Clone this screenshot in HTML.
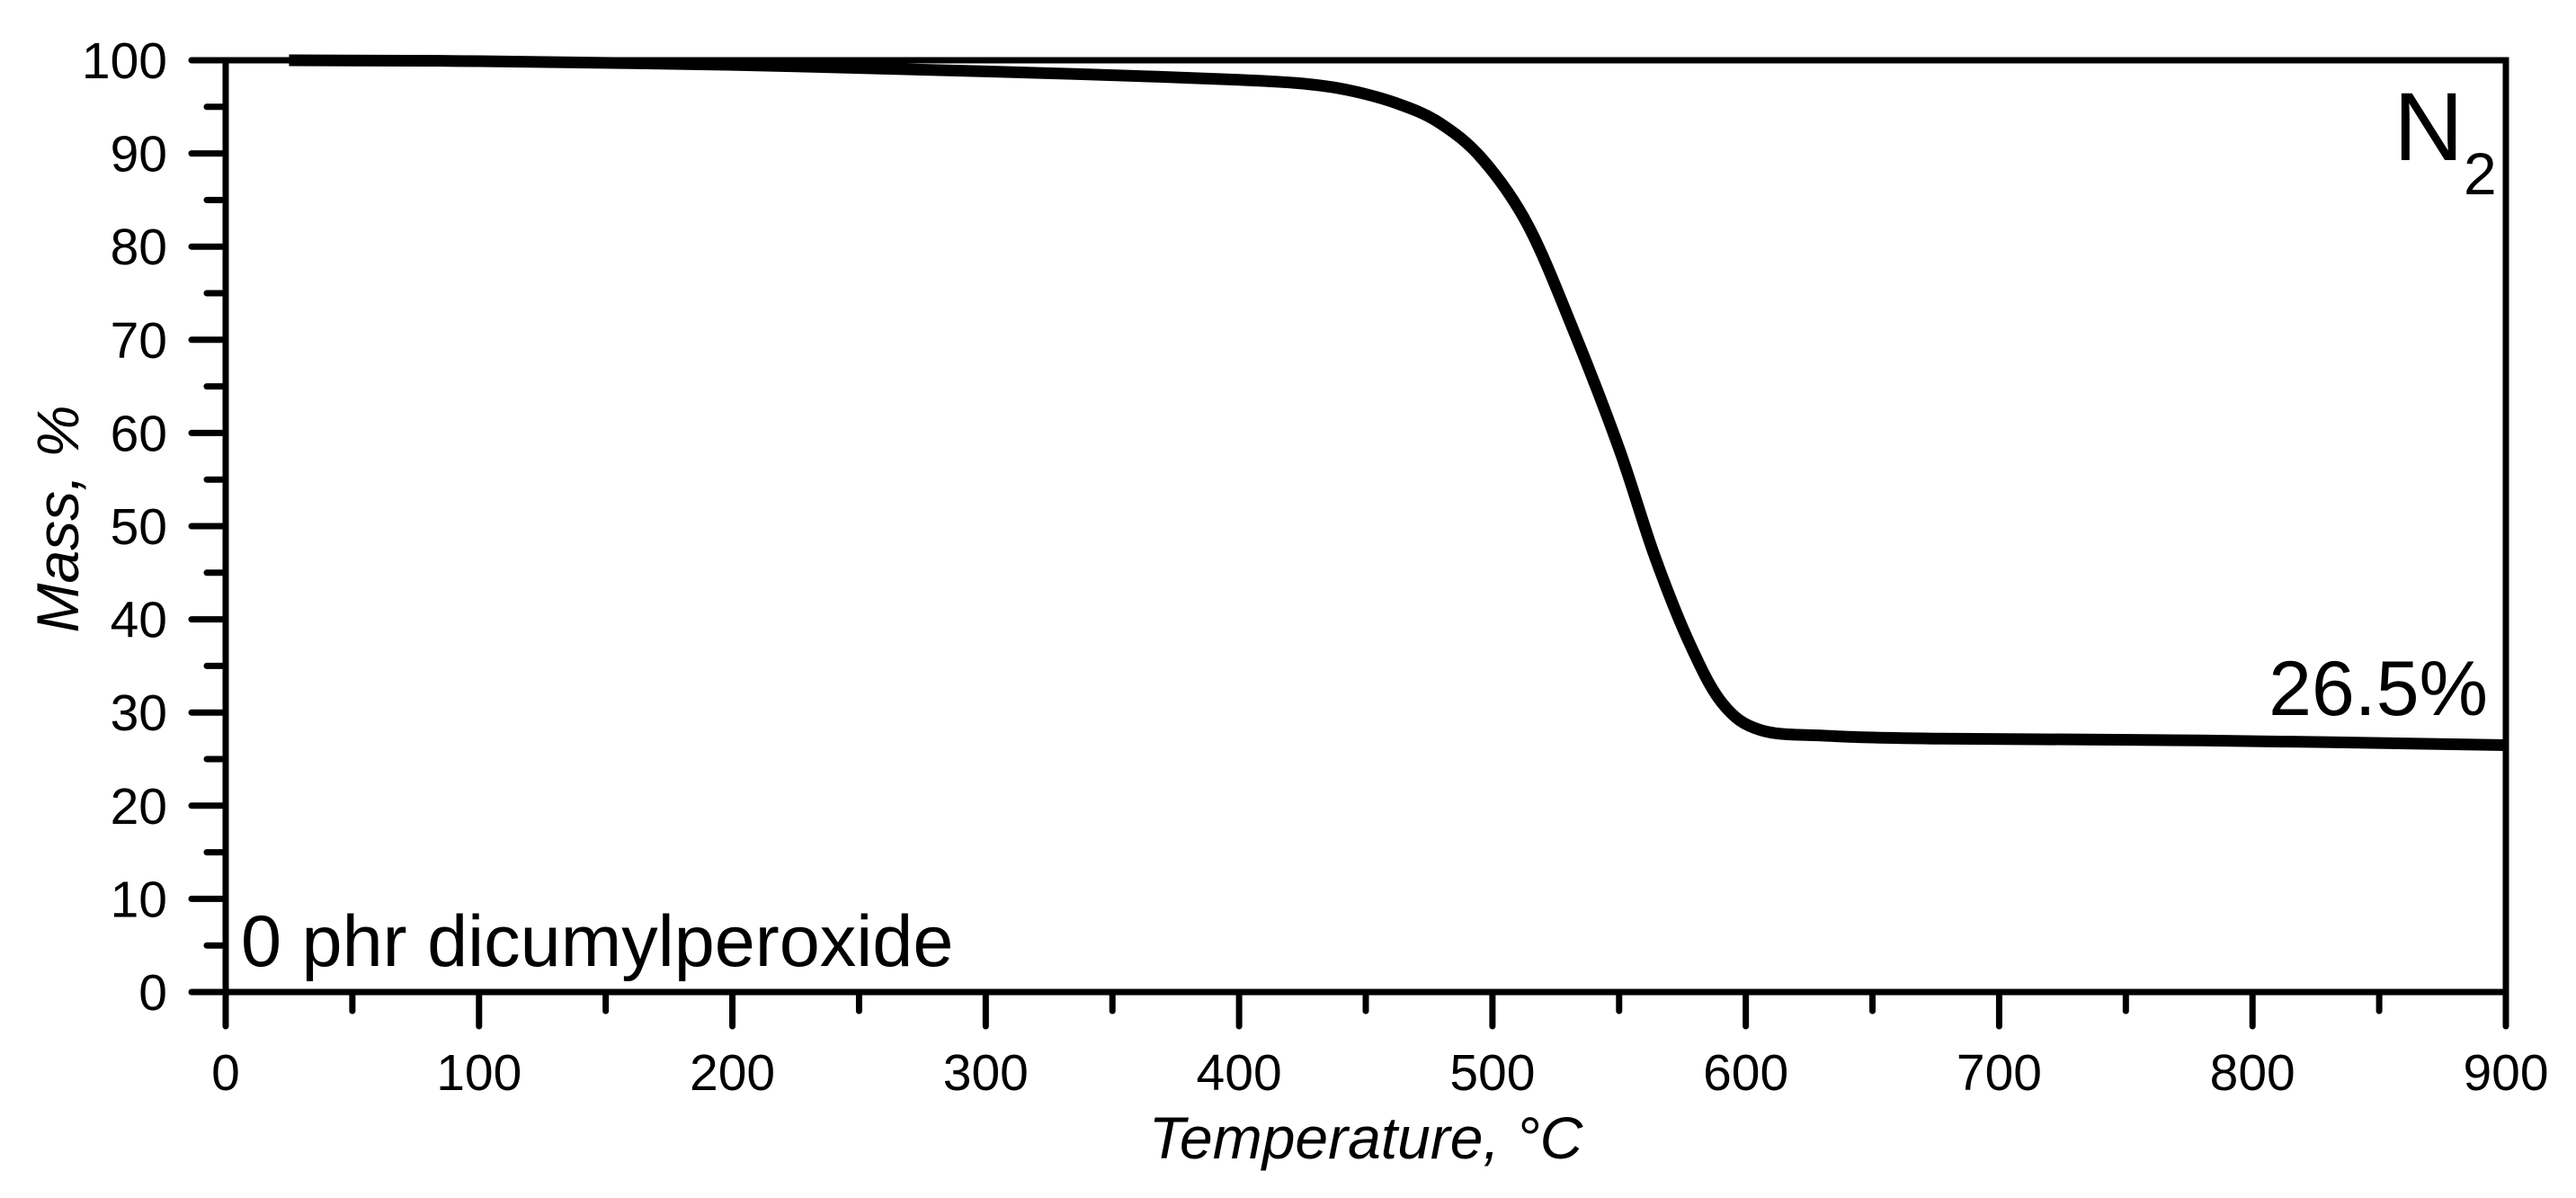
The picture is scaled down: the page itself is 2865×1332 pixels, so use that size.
<!DOCTYPE html>
<html><head><meta charset="utf-8">
<style>
html,body{margin:0;padding:0;background:#fff;}
svg{display:block;}
text{font-family:"Liberation Sans",Arial,sans-serif;fill:#000;}
</style></head>
<body>
<svg id="chart" width="2865" height="1332" viewBox="0 0 2865 1332" xmlns="http://www.w3.org/2000/svg">
<rect x="0" y="0" width="2865" height="1332" fill="#fff"/>
<g id="ticks"></g>
<g id="labels"></g>
<path id="curve" fill="none" stroke="#000" stroke-width="13" stroke-linejoin="round" stroke-linecap="butt"/>
<rect x="251" y="67" width="2536" height="1036" fill="none" stroke="#000" stroke-width="7"/>
<text x="1519" y="1288" font-size="66" font-style="italic" text-anchor="middle">Temperature, °C</text>
<text transform="translate(87,577) rotate(-90)" font-size="66" font-style="italic" text-anchor="middle">Mass, %</text>
<text x="2662" y="178" font-size="108">N<tspan font-size="66" dy="38">2</tspan></text>
<text x="2767" y="795" font-size="86" text-anchor="end">26.5%</text>
<text x="268" y="1074" font-size="81">0 phr dicumylperoxide</text>
</svg>
<script>
const temps = [25, 100, 200, 300, 350, 400, 425, 443, 462, 479, 496, 514, 532, 550, 564, 578, 591, 606, 632, 674, 780, 900];
const mass  = [100, 99.9, 99.5, 98.8, 98.4, 97.9, 97.5, 96.8, 95.4, 93.3, 89.4, 82.3, 71.0, 58.3, 46.8, 37.3, 30.9, 28.1, 27.5, 27.2, 27.0, 26.5];
const xTicks = [0, 100, 200, 300, 400, 500, 600, 700, 800, 900];
const yTicks = [0, 10, 20, 30, 40, 50, 60, 70, 80, 90, 100];

const X0 = 251, X1 = 2787, Y0 = 1103, Y1 = 67;
function xs(t){ return X0 + (t - 0) / 900 * (X1 - X0); }
function ys(m){ return Y0 - (m - 0) / 100 * (Y0 - Y1); }
const NS = "http://www.w3.org/2000/svg";
const tg = document.getElementById('ticks');
const lg = document.getElementById('labels');
function line(x1,y1,x2,y2,name){
  const l = document.createElementNS(NS,'line');
  l.setAttribute('x1',x1);l.setAttribute('y1',y1);l.setAttribute('x2',x2);l.setAttribute('y2',y2);
  l.setAttribute('stroke','#000');l.setAttribute('stroke-width','7');l.setAttribute('stroke-linecap','round');
  
  
  tg.appendChild(l);
}
for (let t = 0; t <= 900; t += 50) {
  const major = t % 100 === 0;
  line(xs(t), Y0, xs(t), Y0 + (major ? 38 : 21), major ? 'x-major-tick' : 'x-minor-tick');
}
for (let m = 0; m <= 100; m += 5) {
  const major = m % 10 === 0;
  line(X0, ys(m), X0 - (major ? 38 : 21), ys(m), major ? 'y-major-tick' : 'y-minor-tick');
}
xTicks.forEach(t => {
  const e = document.createElementNS(NS,'text');
  e.setAttribute('x', xs(t)); e.setAttribute('y', 1212);
  e.setAttribute('font-size','57'); e.setAttribute('text-anchor','middle');
  e.textContent = t;
  
  
  lg.appendChild(e);
});
yTicks.forEach(m => {
  const e = document.createElementNS(NS,'text');
  e.setAttribute('x', 186); e.setAttribute('y', ys(m) + 20);
  e.setAttribute('font-size','57'); e.setAttribute('text-anchor','end');
  e.textContent = m;
  
  
  lg.appendChild(e);
});
const pts = temps.map((t,i)=>[xs(t), ys(mass[i])]);
let d = 'M' + pts[0][0] + ',' + pts[0][1];
for (let i = 0; i < pts.length - 1; i++) {
  const p0 = pts[Math.max(0,i-1)], p1 = pts[i], p2 = pts[i+1], p3 = pts[Math.min(pts.length-1,i+2)];
  const c1x = p1[0] + (p2[0]-p0[0])/6, c1y = p1[1] + (p2[1]-p0[1])/6;
  const c2x = p2[0] - (p3[0]-p1[0])/6, c2y = p2[1] - (p3[1]-p1[1])/6;
  d += ` C${c1x},${c1y} ${c2x},${c2y} ${p2[0]},${p2[1]}`;
}
document.getElementById('curve').setAttribute('d', d);
</script>
</body></html>
